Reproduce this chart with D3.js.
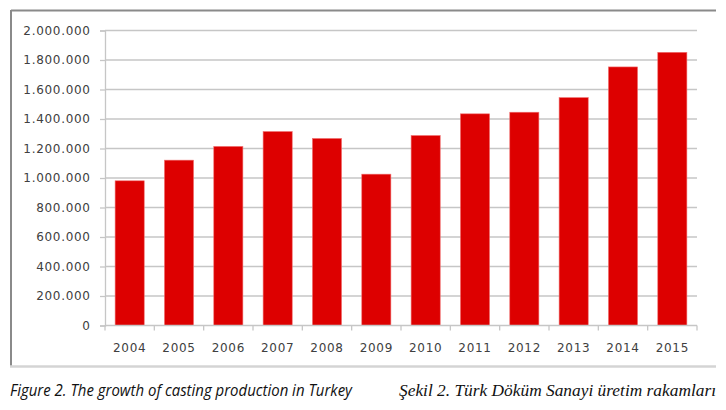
<!DOCTYPE html>
<html>
<head>
<meta charset="utf-8">
<script src="https://cdn.jsdelivr.net/npm/d3@7/dist/d3.min.js"></script>
<style>
  html, body { margin: 0; padding: 0; background: #fff; }
  svg { display: block; }
</style>
</head>
<body>
<svg id="chart" width="726" height="410"></svg>
<script>
const years = ["2004","2005","2006","2007","2008","2009","2010","2011","2012","2013","2014","2015"];
const production = [981000, 1121000, 1214000, 1315000, 1268000, 1026000, 1288000, 1435000, 1446000, 1545000, 1753000, 1852000];
const yTicks = [0, 200000, 400000, 600000, 800000, 1000000, 1200000, 1400000, 1600000, 1800000, 2000000];
const captionEn = "Figure 2. The growth of casting production in Turkey";
const captionTr = "Şekil 2. Türk Döküm Sanayi üretim rakamları";

(function () {
const svg = d3.select("#chart");
const pL = 105, pR = 697, pT = 30.5, pB = 325.5;
const labelFont = "'DejaVu Sans', Verdana, sans-serif";

// frame
svg.append("line").attr("x1", 11).attr("x2", 716).attr("y1", 10.5).attr("y2", 10.5)
  .attr("stroke", "#8a8a8a").attr("stroke-width", 2);
svg.append("line").attr("x1", 11).attr("x2", 11).attr("y1", 10).attr("y2", 367)
  .attr("stroke", "#8a8a8a").attr("stroke-width", 2);
svg.append("line").attr("x1", 10).attr("x2", 716).attr("y1", 366.5).attr("y2", 366.5)
  .attr("stroke", "#d4d4d4").attr("stroke-width", 2.5);

const x = d3.scaleBand().domain(years).range([pL, pR]).paddingInner(0.41).paddingOuter(0.205);
const xEdges = d3.scaleLinear().domain([0, years.length]).range([pL, pR]);
const y = d3.scaleLinear().domain([0, 2000000]).range([pB, pT]);

const fmt = v => d3.format(",")(v).replace(/,/g, ".");

// gridlines
svg.append("g").selectAll("line").data(yTicks.filter(d => d > 0)).join("line")
  .attr("x1", pL).attr("x2", pR)
  .attr("y1", d => y(d)).attr("y2", d => y(d))
  .attr("stroke", "#c6c6c6").attr("stroke-width", 1.3);

// y axis
const yAxis = svg.append("g").attr("transform", `translate(${pL},0)`)
  .call(d3.axisLeft(y).tickValues(yTicks).tickFormat(fmt).tickSize(5).tickPadding(10));
yAxis.select(".domain").attr("stroke", "#c6c6c6").attr("stroke-width", 1.3);
yAxis.selectAll(".tick line").attr("stroke", "#c6c6c6").attr("stroke-width", 1.3);
yAxis.selectAll(".tick text").attr("fill", "#404040")
  .attr("font-family", labelFont).attr("font-size", 12)
  .attr("letter-spacing", 0.7).attr("dx", 0.7);

// bars
svg.append("g").selectAll("rect").data(production).join("rect")
  .attr("x", (d, i) => x(years[i]))
  .attr("width", x.bandwidth())
  .attr("y", d => y(d))
  .attr("height", d => y(0) - y(d))
  .attr("fill", "#dd0000")
  .attr("stroke", "#f07070").attr("stroke-width", 0.6);

// x axis
svg.append("line").attr("x1", pL).attr("x2", pR).attr("y1", pB).attr("y2", pB)
  .attr("stroke", "#c6c6c6").attr("stroke-width", 1.3);
svg.append("g").selectAll("line").data(d3.range(years.length + 1)).join("line")
  .attr("x1", d => xEdges(d)).attr("x2", d => xEdges(d))
  .attr("y1", pB).attr("y2", pB + 5)
  .attr("stroke", "#c6c6c6").attr("stroke-width", 1.3);
svg.append("g").selectAll("text").data(years).join("text")
  .attr("x", d => x(d) + x.bandwidth() / 2)
  .attr("y", 352)
  .attr("text-anchor", "middle")
  .attr("fill", "#404040")
  .attr("font-family", labelFont).attr("font-size", 12)
  .attr("letter-spacing", 0.7)
  .text(d => d);

// captions
svg.append("text").attr("x", 10).attr("y", 396)
  .attr("font-family", "'Open Sans', 'Noto Sans', sans-serif").attr("font-style", "italic")
  .attr("font-size", 15.5).attr("fill", "#111")
  .attr("textLength", 342).attr("lengthAdjust", "spacingAndGlyphs")
  .text(captionEn);
svg.append("text").attr("x", 399).attr("y", 396)
  .attr("font-family", "'Liberation Serif', 'DejaVu Serif', serif").attr("font-style", "italic")
  .attr("font-size", 16.5).attr("fill", "#111")
  .attr("textLength", 317).attr("lengthAdjust", "spacingAndGlyphs")
  .text(captionTr);
})();
</script>
</body>
</html>
